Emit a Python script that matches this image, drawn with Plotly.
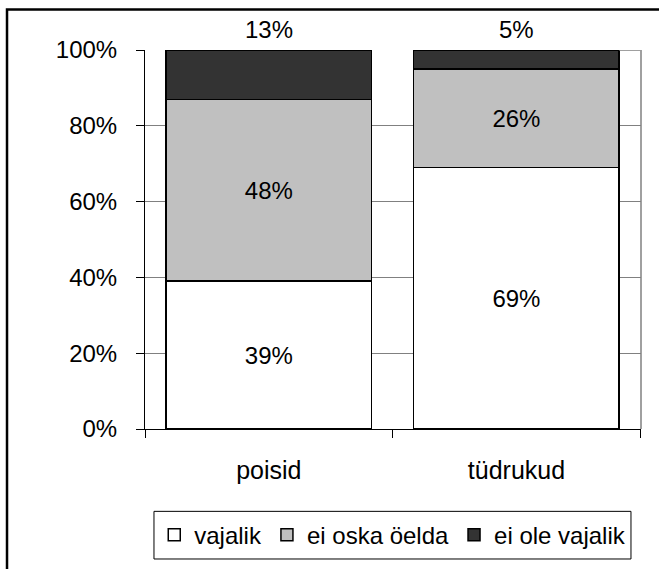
import plotly.graph_objects as go

# Survey answers by group, percent of respondents
categories = ["poisid", "tüdrukud"]
series_names = ["vajalik", "ei oska öelda", "ei ole vajalik"]
vajalik = [39, 69]
ei_oska = [48, 26]
ei_ole = [13, 5]
y_ticks = [0, 20, 40, 60, 80, 100]

FONT = "Liberation Sans, Arial, sans-serif"
FS = 24
FS_CAT = 25
BAR_W = 0.83

fig = go.Figure()

series = [
    (series_names[0], vajalik, "#FFFFFF", True),
    (series_names[1], ei_oska, "#C0C0C0", True),
    (series_names[2], ei_ole, "#333333", False),
]

for name, vals, color, inner_label in series:
    fig.add_trace(go.Bar(
        name=name,
        x=categories,
        y=vals,
        width=BAR_W,
        marker=dict(color=color, line=dict(color="#000000", width=1.5)),
        text=[f"{v}%" for v in vals] if inner_label else None,
        textposition="inside" if inner_label else "none",
        insidetextanchor="middle",
        textangle=0,
        textfont=dict(family=FONT, size=FS, color="#000000"),
        hoverinfo="skip",
    ))

# Labels for the top segment sit just above each stacked column
for cat, a, b, c in zip(categories, vajalik, ei_oska, ei_ole):
    fig.add_annotation(
        x=cat, y=a + b + c, xref="x", yref="y",
        text=f"{c}%", showarrow=False, yshift=21, yanchor="middle",
        font=dict(family=FONT, size=FS, color="#000000"),
    )

# Grey plot-area frame on the right side
fig.add_shape(type="line", xref="paper", yref="paper", x0=1, x1=1, y0=0, y1=1,
              line=dict(color="#808080", width=1.5))
fig.add_shape(type="line", xref="x", yref="y",
              x0=len(categories) - 1 + BAR_W / 2, x1=len(categories) - 0.5,
              y0=100, y1=100, line=dict(color="#808080", width=1.5))

# Legend frame
fig.add_shape(type="rect", xref="paper", yref="paper",
              x0=0.0181, x1=0.9798, y0=-0.2173, y1=-0.343,
              line=dict(color="#000000", width=1), fillcolor="rgba(0,0,0,0)")

# Outer chart border
fig.add_shape(type="rect", xref="paper", yref="paper",
              x0=-0.2782, x1=1.06, y0=1.107, y1=-0.40,
              line=dict(color="#000000", width=2.5), fillcolor="rgba(0,0,0,0)")

fig.update_layout(
    barmode="stack",
    width=659, height=569,
    margin=dict(l=145, r=18, t=50, b=137),
    paper_bgcolor="#FFFFFF",
    plot_bgcolor="#FFFFFF",
    bargap=1 - BAR_W,
    font=dict(family=FONT, size=FS, color="#000000"),
    showlegend=True,
    legend=dict(
        orientation="h",
        traceorder="normal",
        x=0.4995, xanchor="center",
        y=-0.280, yanchor="middle",
        borderwidth=0,
        bgcolor="rgba(0,0,0,0)",
        font=dict(family=FONT, size=FS, color="#000000"),
        itemwidth=30,
    ),
    xaxis=dict(
        type="category",
        showline=True, linecolor="#000000", linewidth=1,
        ticks="outside", tickson="boundaries", ticklen=8, tickcolor="#000000",
        showgrid=False,
        tickfont=dict(family=FONT, size=FS_CAT, color="#000000"),
        ticklabelstandoff=19,
    ),
    yaxis=dict(
        range=[0, 100],
        tickvals=y_ticks,
        ticktext=[f"{v}%" for v in y_ticks],
        showline=True, linecolor="#000000", linewidth=1,
        ticks="outside", ticklen=8, tickcolor="#000000",
        showgrid=True, gridcolor="#808080", gridwidth=1,
        zeroline=False,
        tickfont=dict(family=FONT, size=FS, color="#000000"),
        ticklabelstandoff=14,
    ),
)

fig.write_html("out.html")
